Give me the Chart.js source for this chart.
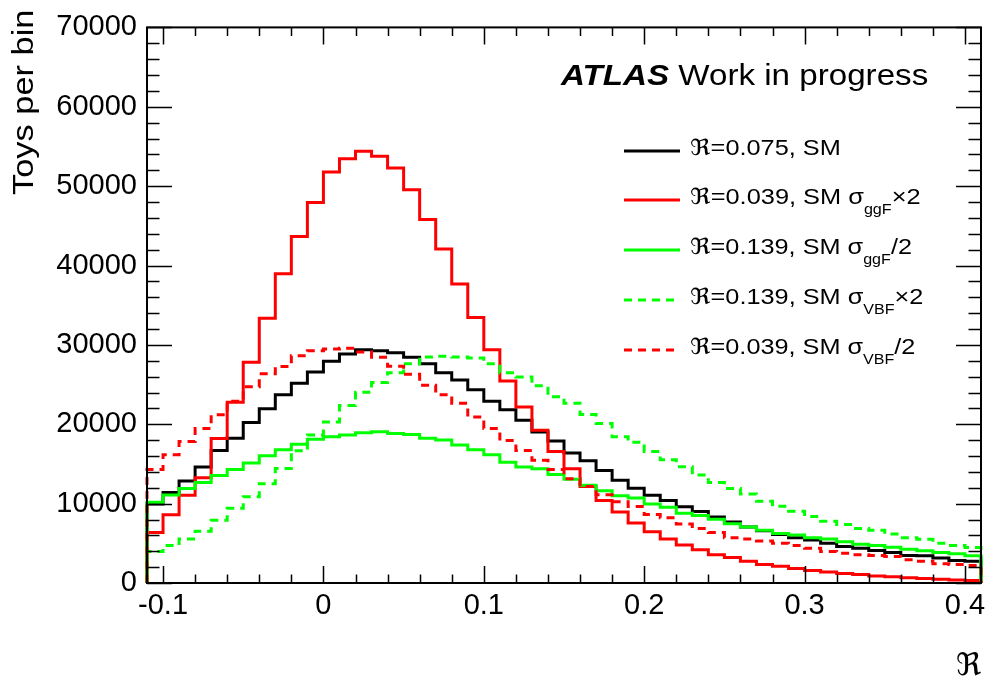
<!DOCTYPE html>
<html><head><meta charset="utf-8">
<script src="https://cdn.jsdelivr.net/npm/chart.js@4.4.0/dist/chart.umd.min.js"></script>
<style>
html,body{margin:0;padding:0;background:#fff;overflow:hidden;}
#wrap{position:relative;width:992px;height:683px;}
#c{position:absolute;left:0;top:0;}
.ov{position:absolute;font-family:'Liberation Sans',Arial,Helvetica,sans-serif;color:#000;white-space:nowrap;line-height:1;transform-origin:left top;}
.sub{font-size:14px;position:relative;top:10px;}
.sym{font-family:'DejaVu Sans','DejaVu Serif',serif;}
</style></head><body>
<div id="wrap">
<canvas id="c" width="992" height="683"></canvas>
<div class="ov" id="atlas" style="left:561px;top:61px;font-size:29px" data-w="367"><b><i>ATLAS</i></b> Work in progress</div>
<div class="ov" id="ytitle" style="left:8.5px;top:195px;font-size:29px" data-w="185">Toys per bin</div>
<div class="ov sym" id="xtitle" style="left:956px;top:649px;font-size:31px">ℜ</div>
<div id="legend"></div>
</div>
<script>
// ---- data ----
const binEdges = [-0.11,-0.10,-0.09,-0.08,-0.07,-0.06,-0.05,-0.04,-0.03,-0.02,-0.01,0.00,
  0.01,0.02,0.03,0.04,0.05,0.06,0.07,0.08,0.09,0.10,0.11,0.12,0.13,0.14,0.15,0.16,0.17,
  0.18,0.19,0.20,0.21,0.22,0.23,0.24,0.25,0.26,0.27,0.28,0.29,0.30,0.31,0.32,0.33,0.34,
  0.35,0.36,0.37,0.38,0.39,0.40,0.41];

const smValues = [9950,11400,12850,14630,16700,18230,20210,21950,23730,25170,26580,27940,
  28850,29390,29260,29020,28440,27610,26500,25590,24350,22900,21820,20500,19010,17900,
  16370,15410,14170,12930,11940,11070,10380,9600,9010,8310,7690,7070,6570,6120,5700,
  5420,5000,4590,4380,4090,3840,3470,3430,3140,2850,2730];

const ggFx2Values = [6370,8600,11040,13270,18190,22780,27810,33360,38970,43650,47950,51790,
  53440,54400,53780,52290,49560,45800,42080,37660,33450,29390,25460,22160,19260,16580,
  14380,12150,10380,8930,7560,6450,5540,4800,4180,3560,3220,2730,2320,2110,1820,1570,
  1400,1200,1080,870,790,660,580,460,370,330];

const ggFhalfValues = [10170,11080,11900,12650,13550,14300,15130,16030,16780,17480,18100,18430,
  18640,18930,19060,18850,18720,18230,18020,17400,16780,16160,15210,14630,14380,13680,
  13060,12310,11620,11000,10700,9960,9550,8800,8520,8020,7480,7070,6650,6240,6040,5700,
  5540,5210,4870,4710,4500,4250,4050,3840,3680,3430];

const vbfx2Values = [3970,4710,5540,6530,7900,9420,10870,12520,14420,16660,18640,20300,
  22360,24020,25260,26500,27610,28480,28560,28480,28360,27610,26500,25960,24840,23480,
  22650,21240,20090,18430,17730,16580,15540,14650,13600,12650,11900,11200,10290,9670,
  9050,8390,7770,7360,6860,6650,6160,5700,5500,5000,4710,4460];

const vbfHalfValues = [14300,16160,17820,19470,21200,22900,24720,26370,27280,28640,29260,29470,
  29590,29100,28440,27320,26290,24920,23730,22650,20910,19470,17940,16700,15460,14300,
  13140,12150,11120,10250,9630,8640,8220,7440,6860,6370,5700,5540,5290,5000,4710,4380,
  3970,3760,3560,3470,3350,2940,2730,2440,2320,2190];

const xTickValues = [-0.1,0,0.1,0.2,0.3,0.4];
const xTickLabels = ['-0.1','0','0.1','0.2','0.3','0.4'];
const yTickValues = [0,10000,20000,30000,40000,50000,60000,70000];
const yTickLabels = ['0','10000','20000','30000','40000','50000','60000','70000'];

const seriesLabels = ['ℜ=0.075, SM','ℜ=0.039, SM σggF×2','ℜ=0.139, SM σggF/2','ℜ=0.139, SM σVBF×2','ℜ=0.039, SM σVBF/2'];

// ---- build histogram step points ----
function histPoints(vals){
  const pts=[{x:binEdges[0],y:0}];
  vals.forEach((v,i)=>pts.push({x:binEdges[i],y:v}));
  const last=binEdges[binEdges.length-1];
  pts.push({x:last,y:vals[vals.length-1]});
  pts.push({x:last,y:0});
  return pts;
}

const styles = [
  {color:'#000000',dash:[]},
  {color:'#ff0000',dash:[]},
  {color:'#00ff00',dash:[]},
  {color:'#00ff00',dash:[8,6]},
  {color:'#ff0000',dash:[8,6]}
];
const allValues=[smValues,ggFx2Values,ggFhalfValues,vbfx2Values,vbfHalfValues];

const datasets = allValues.map((vals,i)=>({
  label: seriesLabels[i],
  data: histPoints(vals),
  borderColor: styles[i].color,
  borderDash: styles[i].dash,
  borderWidth: 3,
  pointRadius: 0,
  fill: false,
  stepped: 'before',
  tension: 0,
  clip: 4,
  borderCapStyle:'butt',
  borderJoinStyle:'miter',
  order: 5-i
}));

const tickFont = {family:"'Liberation Sans', Arial, Helvetica, sans-serif", size:29};

const frameTicks = {
  id:'frameTicks',
  afterDraw(chart){
    const {ctx, chartArea:a, scales:{x,y}} = chart;
    ctx.save();
    ctx.strokeStyle='#000';
    ctx.lineWidth=1.5;
    ctx.beginPath();
    for(let k=0;k<=35;k++){
      const py=Math.round(y.getPixelForValue(k*2000))+0.5;
      const L = (k%5===0)?25:12.5;
      ctx.moveTo(a.left,py); ctx.lineTo(a.left+L,py);
      ctx.moveTo(a.right,py); ctx.lineTo(a.right-L,py);
    }
    for(let k=-5;k<=20;k++){
      const px=Math.round(x.getPixelForValue(k*0.02))+0.5;
      const L = (k%5===0)?17:8.5;
      ctx.moveTo(px,a.bottom); ctx.lineTo(px,a.bottom-L);
      ctx.moveTo(px,a.top); ctx.lineTo(px,a.top+L);
    }
    ctx.stroke();
    ctx.lineWidth=2;
    ctx.strokeRect(a.left,a.top,a.right-a.left,a.bottom-a.top);
    ctx.restore();
  }
};

new Chart(document.getElementById('c'),{
  type:'line',
  data:{datasets},
  options:{
    responsive:false,
    animation:false,
    events:[],
    layout:{padding:{top:17,right:11,left:0,bottom:0}},
    plugins:{legend:{display:false},tooltip:{enabled:false},title:{display:false}},
    scales:{
      x:{
        type:'linear',min:-0.11,max:0.41,
        grid:{display:false,drawTicks:false},border:{display:false},
        afterBuildTicks(s){ s.ticks = xTickValues.map(v=>({value:v})); },
        afterFit(s){ s.height=100; },
        ticks:{font:tickFont,color:'#000',padding:6,maxRotation:0,autoSkip:false,
          callback:(v)=>{const i=xTickValues.findIndex(t=>Math.abs(t-v)<1e-9);return i>=0?xTickLabels[i]:'';}},
        title:{display:false,text:'ℜ'}
      },
      y:{
        type:'linear',min:0,max:70000,
        grid:{display:false,drawTicks:false},border:{display:false},
        afterBuildTicks(s){ s.ticks = yTickValues.map(v=>({value:v})); },
        afterFit(s){ s.width=147; },
        ticks:{font:tickFont,color:'#000',padding:10,
          callback:(v)=>{const i=yTickValues.indexOf(v);return i>=0?yTickLabels[i]:'';}},
        title:{display:false,text:'Toys per bin'}
      }
    }
  },
  plugins:[frameTicks]
});

// ---- legend overlay ----
const legendRows = [
  {y:151, html:'<span class="sym">ℜ</span>=0.075, SM', w:150.7},
  {y:200, html:'<span class="sym">ℜ</span>=0.039, SM σ<span class="sub">ggF</span>×2', w:230.7},
  {y:250, html:'<span class="sym">ℜ</span>=0.139, SM σ<span class="sub">ggF</span>/2', w:221.7},
  {y:300, html:'<span class="sym">ℜ</span>=0.139, SM σ<span class="sub">VBF</span>×2', w:233.3},
  {y:350, html:'<span class="sym">ℜ</span>=0.039, SM σ<span class="sub">VBF</span>/2', w:225}
];
const leg=document.getElementById('legend');
legendRows.forEach((r,i)=>{
  const s=styles[i];
  const svg=document.createElementNS('http://www.w3.org/2000/svg','svg');
  svg.setAttribute('width','56');svg.setAttribute('height','6');
  svg.style.position='absolute';svg.style.left='624px';svg.style.top=(r.y-3)+'px';
  const ln=document.createElementNS('http://www.w3.org/2000/svg','line');
  ln.setAttribute('x1','0');ln.setAttribute('x2','56');ln.setAttribute('y1','3');ln.setAttribute('y2','3');
  ln.setAttribute('stroke',s.color);ln.setAttribute('stroke-width','3');
  if(s.dash.length) ln.setAttribute('stroke-dasharray',s.dash.join(' '));
  svg.appendChild(ln);leg.appendChild(svg);
  const d=document.createElement('div');
  d.className='ov';d.style.left='690px';d.style.top=(r.y-13.6)+'px';d.style.fontSize='22px';
  d.innerHTML=r.html;d.dataset.w=r.w;leg.appendChild(d);
});
// fit overlay text widths
document.querySelectorAll('#legend .ov, #atlas').forEach(el=>{
  const w=el.offsetWidth; const t=parseFloat(el.dataset.w);
  el.style.transform='scaleX('+(t/w).toFixed(4)+')';
});
const yt=document.getElementById('ytitle');
yt.style.transform='rotate(-90deg) scaleX('+(parseFloat(yt.dataset.w)/yt.offsetWidth).toFixed(4)+')';
</script>
</body></html>
